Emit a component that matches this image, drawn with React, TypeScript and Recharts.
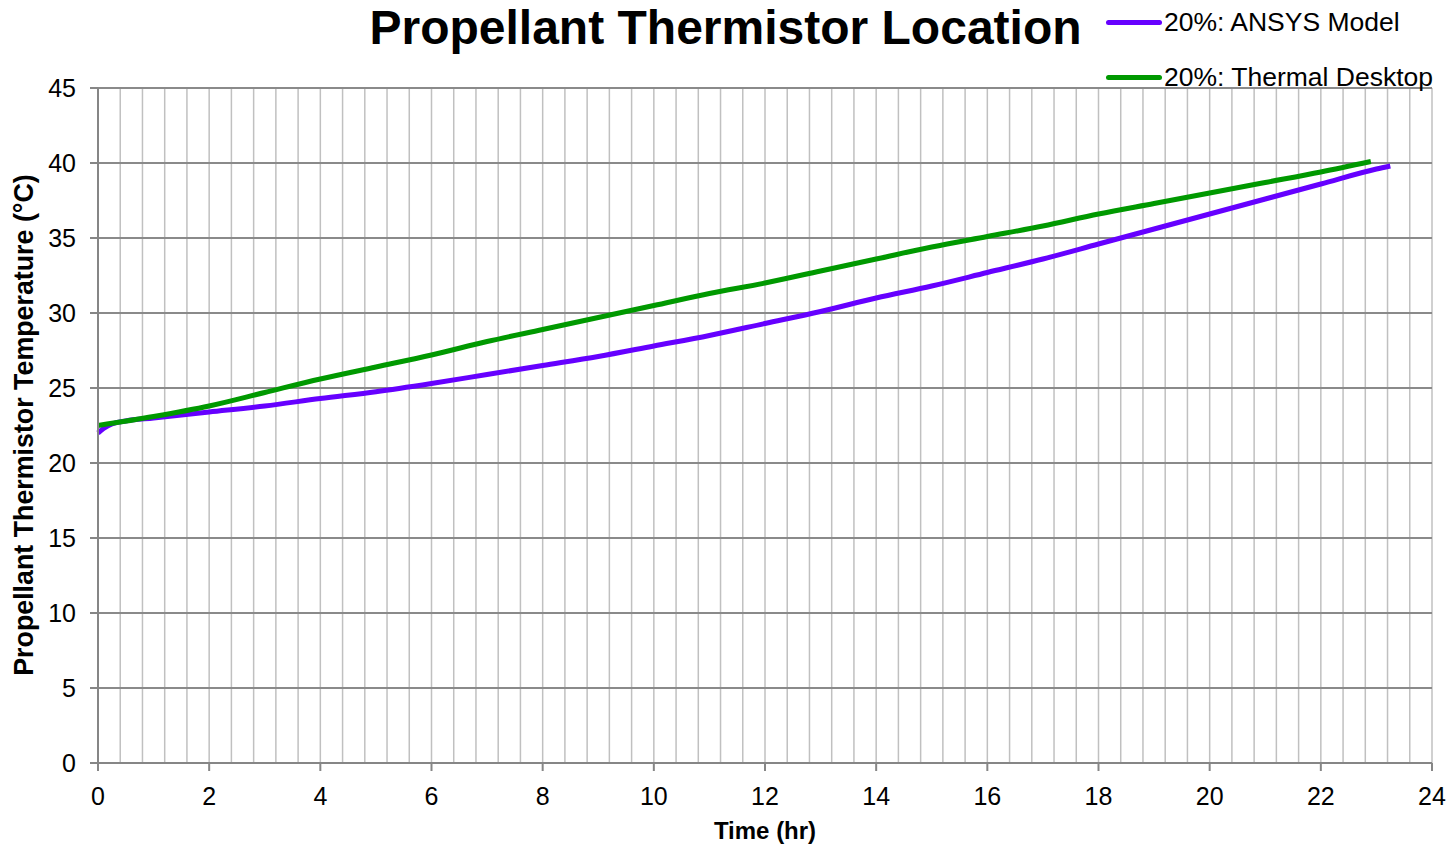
import React from 'react';
import { LineChart, Line, XAxis, YAxis, CartesianGrid, Label } from 'recharts';

// ANSYS model run (hours / deg C)
const ansysTime = [0, 0.1, 0.25, 0.5, 1, 2, 3, 4, 5, 6, 7, 8, 9, 10, 11, 12, 13, 14, 15, 16, 17, 18, 19, 20, 21, 22, 23, 23.25];
const ansysTemp = [22.0, 22.3, 22.6, 22.8, 23.0, 23.4, 23.8, 24.3, 24.75, 25.3, 25.9, 26.5, 27.1, 27.8, 28.5, 29.3, 30.1, 31.0, 31.8, 32.7, 33.6, 34.6, 35.6, 36.6, 37.6, 38.6, 39.6, 39.8];

// Thermal Desktop run
const thermalTime = [0, 1, 2, 3, 4, 5, 6, 7, 8, 9, 10, 11, 12, 13, 14, 15, 16, 17, 18, 19, 20, 21, 22, 22.9];
const thermalTemp = [22.5, 23.1, 23.8, 24.7, 25.6, 26.4, 27.2, 28.1, 28.9, 29.7, 30.5, 31.3, 32.0, 32.8, 33.6, 34.4, 35.1, 35.8, 36.6, 37.3, 38.0, 38.7, 39.4, 40.1];

const yTicks = [0, 5, 10, 15, 20, 25, 30, 35, 40, 45];
// minor vertical grid every 0.4 hr, labels every 2 hr
const xGridTicks = Array.from({ length: 61 }, (_, i) => Math.round(i * 4) / 10);

const seriesNames = ['20%: ANSYS Model', '20%: Thermal Desktop'];
const seriesColors = ['#6600ff', '#009900'];

const ansysData = ansysTime.map((t, i) => ({ time: t, temp: ansysTemp[i] }));
const thermalData = thermalTime.map((t, i) => ({ time: t, temp: thermalTemp[i] }));

const FONT = '"Liberation Sans", Arial, sans-serif';
const TICK_SIZE = 8;
const X_TICK_MARGIN = 16;

const XTick = (props: any) => {
  const { x, y, payload } = props;
  const v = payload.value;
  if (Math.abs(v / 2 - Math.round(v / 2)) > 1e-6) return <g />;
  const axisY = y - TICK_SIZE - X_TICK_MARGIN;
  return (
    <g>
      <line x1={x} x2={x} y1={axisY} y2={axisY + TICK_SIZE} stroke="#868686" strokeWidth={2} />
      <text x={x} y={y} dy="0.71em" textAnchor="middle" fill="#000" fontSize={25} fontFamily={FONT}>
        {Math.round(v)}
      </text>
    </g>
  );
};

export default function App() {
  return (
    <div style={{ position: 'absolute', left: 0, top: 0, width: 1448, height: 850, background: '#fff', fontFamily: FONT }}>
      <div
        style={{
          position: 'absolute',
          left: 0,
          width: 1451,
          top: 0,
          textAlign: 'center',
          fontSize: 48,
          fontWeight: 'bold',
          lineHeight: '56px',
          color: '#000',
        }}
      >
        Propellant Thermistor Location
      </div>
      <div style={{ position: 'absolute', top: 7, left: 1106, fontSize: 26.5, color: '#000', zIndex: 2 }}>
        {seriesNames.map((name, i) => (
          <div key={name} style={{ display: 'flex', alignItems: 'center', height: 30, marginBottom: i === 0 ? 25 : 0 }}>
            <div style={{ width: 56, height: 5, borderRadius: 3, background: seriesColors[i], marginRight: 2 }} />
            <span>{name}</span>
          </div>
        ))}
      </div>
      <LineChart width={1448} height={850} margin={{ top: 88, right: 16, bottom: 0, left: 0 }}>
        <CartesianGrid horizontal={false} stroke="#c0c0c0" strokeWidth={1.5} />
        <CartesianGrid vertical={false} stroke="#8a8a8a" strokeWidth={2} />
        <XAxis
          type="number"
          dataKey="time"
          domain={[0, 24]}
          ticks={xGridTicks}
          interval={0}
          tick={<XTick />}
          tickLine={false}
          tickSize={TICK_SIZE}
          tickMargin={X_TICK_MARGIN}
          height={87}
          axisLine={{ stroke: '#868686', strokeWidth: 2 }}
          allowDuplicatedCategory={false}
        >
          <Label
            content={() => (
              <text x={765} y={839} textAnchor="middle" fontSize={24} fontWeight="bold" fontFamily={FONT} fill="#000">
                Time (hr)
              </text>
            )}
          />
        </XAxis>
        <YAxis
          type="number"
          domain={[0, 45]}
          ticks={yTicks}
          interval={0}
          width={98}
          tickSize={TICK_SIZE}
          tickMargin={14}
          tick={{ fill: '#000', fontSize: 25, fontFamily: FONT }}
          tickLine={{ stroke: '#868686', strokeWidth: 2 }}
          axisLine={{ stroke: '#868686', strokeWidth: 2 }}
        >
          <Label
            content={() => (
              <text
                transform="translate(24,425) rotate(-90)"
                textAnchor="middle"
                dominantBaseline="central"
                fontSize={26.8}
                fontWeight="bold"
                fontFamily={FONT}
                fill="#000"
              >
                Propellant Thermistor Temperature (°C)
              </text>
            )}
          />
        </YAxis>
        <Line
          data={ansysData}
          dataKey="temp"
          name={seriesNames[0]}
          type="monotone"
          stroke={seriesColors[0]}
          strokeWidth={5}
          dot={false}
          isAnimationActive={false}
        />
        <Line
          data={thermalData}
          dataKey="temp"
          name={seriesNames[1]}
          type="monotone"
          stroke={seriesColors[1]}
          strokeWidth={5}
          dot={false}
          isAnimationActive={false}
        />
      </LineChart>
    </div>
  );
}
